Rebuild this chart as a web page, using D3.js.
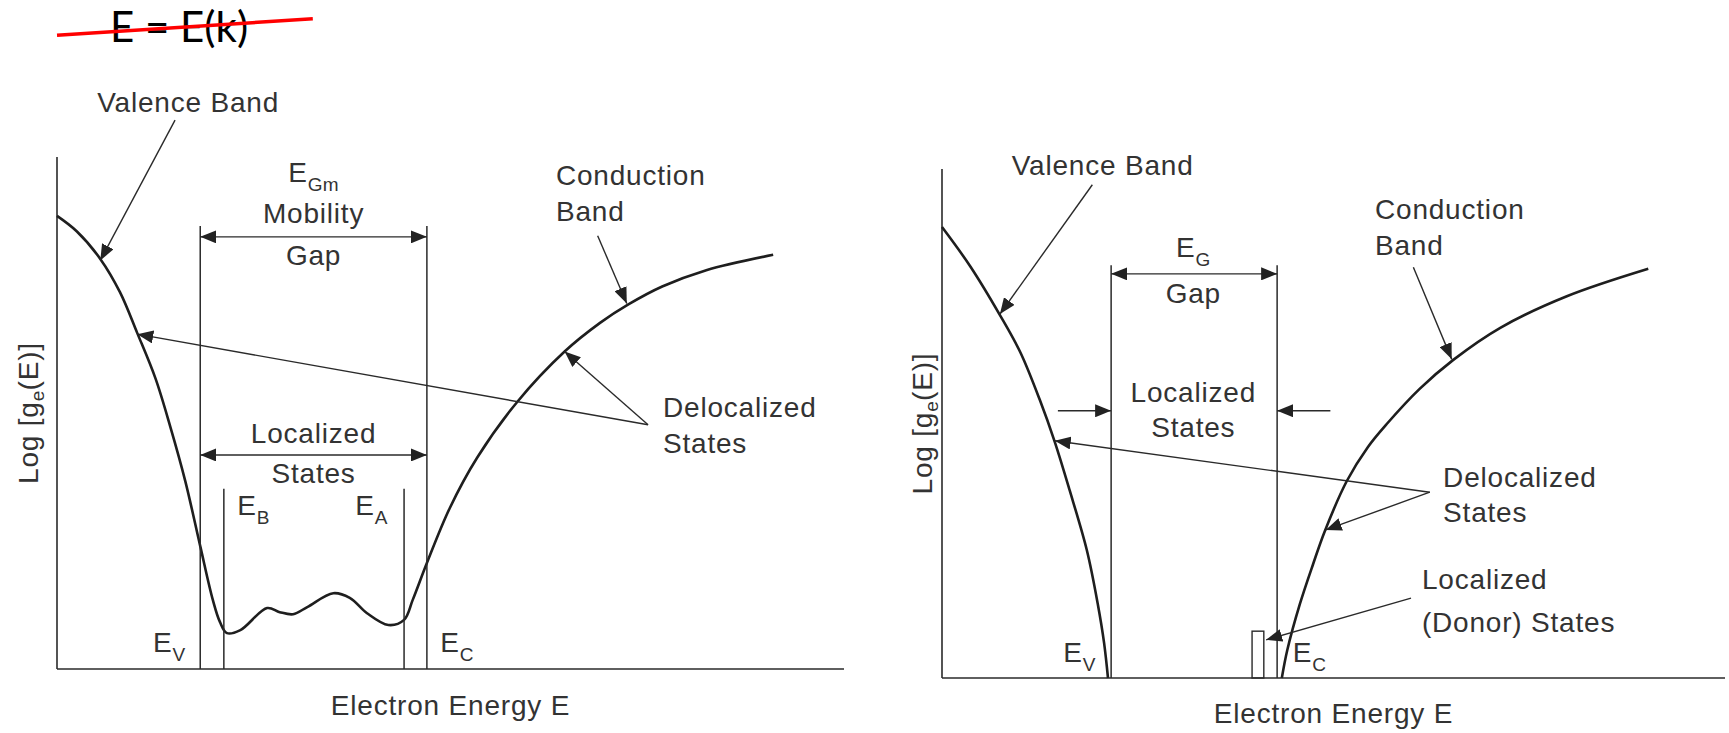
<!DOCTYPE html>
<html>
<head>
<meta charset="utf-8">
<script src="https://cdn.jsdelivr.net/npm/d3@7"></script>
<style>
  html, body { margin: 0; padding: 0; background: #fff; }
  svg { display: block; }
  .lbl { font-family: "Liberation Sans", Arial, sans-serif; font-size: 28px; fill: #333; letter-spacing: 0.8px; }
  .sub { font-size: 19px; letter-spacing: 0.3px; }
  .title { font-family: Lato, "Open Sans", sans-serif; font-size: 42px; fill: #000; }
</style>
</head>
<body>
<svg id="fig" width="1729" height="733"></svg>
<script>
// ---- Density of states, amorphous semiconductor (energy units, log g units) ----
const amorphousDOS = [
  [0, 88.5], [2.5, 85.5], [5.5, 80.1], [8.0, 73.6], [10.2, 65.6], [12.5, 56.8],
  [14.4, 47.3], [16.3, 36.7], [18.2, 24.0], [19.8, 13.5], [20.7, 9.2], [21.6, 7.0],
  [23.3, 7.6], [26.7, 11.9], [28.3, 11.1], [30.0, 10.7], [31.8, 12.1], [35.1, 14.8],
  [37.2, 13.9], [39.4, 10.9], [42.1, 8.6], [44.1, 9.6], [45.2, 13.5], [47.0, 20.7],
  [49.9, 31.4], [53.4, 41.3], [58.5, 52.2], [64.5, 62.0], [69.0, 67.6], [72.6, 71.2],
  [76.9, 74.7], [82.5, 77.9], [91.0, 80.9]
];
const amorphousLevels = [
  { name: "EV", e: 18.2, top: 86.5 },
  { name: "EB", e: 21.2, top: 35.2 },
  { name: "EA", e: 44.1, top: 35.2 },
  { name: "EC", e: 47.0, top: 86.5 }
];

// ---- Density of states, crystalline semiconductor ----
const crystalValence = [
  [0, 88.6], [3.6, 80.9], [7.4, 71.3], [10.0, 64.0], [12.5, 54.6], [14.4, 46.4],
  [16.3, 36.9], [18.5, 25.1], [19.9, 14.5], [20.7, 6.9], [21.2, 0]
];
const crystalConduction = [
  [43.4, 0], [44.1, 5.5], [45.7, 14.5], [47.4, 22.4], [48.9, 28.9], [51.7, 38.7],
  [54.4, 45.4], [56.8, 49.9], [61.0, 56.8], [65.3, 62.5], [71.3, 68.8], [79.8, 75.0],
  [90.2, 80.4]
];
const crystalLevels = [
  { name: "EV", e: 21.6, top: 81.1 },
  { name: "EC", e: 42.8, top: 81.1 }
];
const donorBand = { e0: 39.6, e1: 41.1, g: 9.2 };

const svg = d3.select("#fig");
const defs = svg.append("defs");
["end", "start"].forEach(kind => {
  defs.append("marker")
    .attr("id", "head-" + kind)
    .attr("viewBox", "0 0 16 13")
    .attr("refX", kind === "end" ? 16 : 0).attr("refY", 6.5)
    .attr("markerWidth", 16).attr("markerHeight", 13)
    .attr("markerUnits", "userSpaceOnUse")
    .attr("orient", "auto")
    .append("path")
    .attr("d", kind === "end" ? "M0,0 L16,6.5 L0,13 Z" : "M16,0 L0,6.5 L16,13 Z")
    .attr("fill", "#222");
});

const INK = "#2a2a2a";

function panel(cfg) {
  const x = d3.scaleLinear().domain([0, 100]).range(cfg.xr);
  const y = d3.scaleLinear().domain([0, 100]).range(cfg.yr);
  const g = svg.append("g");

  // axes (plain frame lines, no ticks)
  g.append("line").attr("x1", x(0)).attr("x2", x(0)).attr("y1", y(0)).attr("y2", y(100))
    .attr("stroke", INK).attr("stroke-width", 1.6);
  g.append("line").attr("x1", x(0)).attr("x2", x(100)).attr("y1", y(0)).attr("y2", y(0))
    .attr("stroke", INK).attr("stroke-width", 1.6);

  const line = d3.line().x(d => x(d[0])).y(d => y(d[1])).curve(d3.curveCatmullRom.alpha(0.5));
  cfg.curves.forEach(c => g.append("path").attr("d", line(c))
    .attr("fill", "none").attr("stroke", "#1e1e1e").attr("stroke-width", 2.6)
    .attr("stroke-linejoin", "round"));

  cfg.levels.forEach(l => g.append("line")
    .attr("x1", x(l.e)).attr("x2", x(l.e)).attr("y1", y(0)).attr("y2", y(l.top))
    .attr("stroke", INK).attr("stroke-width", 1.5));

  function arrow(a, b, both) {
    const p = g.append("line")
      .attr("x1", x(a[0])).attr("y1", y(a[1])).attr("x2", x(b[0])).attr("y2", y(b[1]))
      .attr("stroke", INK).attr("stroke-width", 1.4)
      .attr("marker-end", "url(#head-end)");
    if (both) p.attr("marker-start", "url(#head-start)");
  }
  cfg.arrows.forEach(a => arrow(a[0], a[1], a[2]));

  cfg.labels.forEach(l => {
    const el = g.append("text").attr("class", "lbl")
      .attr("x", x(l.at[0])).attr("y", y(l.at[1])).attr("text-anchor", l.anchor || "start");
    if (l.sub) {
      el.append("tspan").text(l.t);
      el.append("tspan").attr("class", "sub").attr("dy", 9).text(l.sub);
    } else {
      el.text(l.t);
    }
  });

  // y-axis title, rotated
  const yl = g.append("text").attr("class", "lbl").attr("text-anchor", "middle")
    .attr("transform", `translate(${cfg.yTitleX},${y(50)}) rotate(-90)`);
  yl.append("tspan").text("Log [g");
  yl.append("tspan").attr("class", "sub").attr("dy", 6).text("e");
  yl.append("tspan").attr("dy", -6).text("(E)]");

  g.append("text").attr("class", "lbl").attr("text-anchor", "middle")
    .attr("x", x(50)).attr("y", cfg.xTitleY).text("Electron Energy E");

  return { g, x, y };
}

// Left: amorphous semiconductor with mobility gap
const left = panel({
  xr: [57, 844], yr: [669, 157],
  curves: [amorphousDOS],
  levels: amorphousLevels,
  arrows: [
    [[15.0, 107.2], [5.5, 79.8]],
    [[75.1, 47.7], [10.2, 65.4]],
    [[75.1, 47.7], [64.5, 62.0]],
    [[68.7, 84.6], [72.4, 71.4]],
    [[18.2, 84.4], [47.0, 84.4], true],
    [[18.2, 41.8], [47.0, 41.8], true]
  ],
  labels: [
    { t: "Valence Band", at: [5.1, 108.8] },
    { t: "E", sub: "Gm", at: [32.6, 95.1], anchor: "middle" },
    { t: "Mobility", at: [32.6, 87.1], anchor: "middle" },
    { t: "Gap", at: [32.6, 78.9], anchor: "middle" },
    { t: "Localized", at: [32.6, 44.1], anchor: "middle" },
    { t: "States", at: [32.6, 36.3], anchor: "middle" },
    { t: "E", sub: "B", at: [22.9, 30.1] },
    { t: "E", sub: "A", at: [37.9, 30.1] },
    { t: "E", sub: "V", at: [12.2, 3.3] },
    { t: "E", sub: "C", at: [48.7, 3.3] },
    { t: "Conduction", at: [63.4, 94.5] },
    { t: "Band", at: [63.4, 87.5] },
    { t: "Delocalized", at: [77.0, 49.2] },
    { t: "States", at: [77.0, 42.2] }
  ],
  yTitleX: 38, xTitleY: 715
});

// Right: crystalline semiconductor with donor states
const right = panel({
  xr: [942, 1725], yr: [678, 169],
  curves: [crystalValence, crystalConduction],
  levels: crystalLevels,
  arrows: [
    [[19.2, 96.9], [7.4, 71.5]],
    [[62.3, 36.5], [14.4, 46.6]],
    [[62.3, 36.5], [49.0, 29.1]],
    [[60.2, 80.7], [65.1, 62.6]],
    [[59.9, 15.7], [41.4, 7.5]],
    [[21.6, 79.4], [42.8, 79.4], true],
    [[14.8, 52.5], [21.6, 52.5]],
    [[49.6, 52.5], [42.8, 52.5]]
  ],
  labels: [
    { t: "Valence Band", at: [8.9, 98.8] },
    { t: "E", sub: "G", at: [32.1, 82.7], anchor: "middle" },
    { t: "Gap", at: [32.1, 73.7], anchor: "middle" },
    { t: "Localized", at: [32.1, 54.2], anchor: "middle" },
    { t: "States", at: [32.1, 47.3], anchor: "middle" },
    { t: "E", sub: "V", at: [15.5, 3.1] },
    { t: "E", sub: "C", at: [44.8, 3.1] },
    { t: "Conduction", at: [55.3, 90.2] },
    { t: "Band", at: [55.3, 83.1] },
    { t: "Delocalized", at: [64.0, 37.5] },
    { t: "States", at: [64.0, 30.6] },
    { t: "Localized", at: [61.3, 17.5] },
    { t: "(Donor) States", at: [61.3, 9.0] }
  ],
  yTitleX: 932, xTitleY: 723
});

// donor level box just below the conduction band edge
right.g.append("rect")
  .attr("x", right.x(donorBand.e0)).attr("y", right.y(donorBand.g))
  .attr("width", right.x(donorBand.e1) - right.x(donorBand.e0))
  .attr("height", right.y(0) - right.y(donorBand.g))
  .attr("fill", "none").attr("stroke", INK).attr("stroke-width", 1.4);

// struck-out dispersion relation heading
svg.append("text").attr("class", "title").attr("x", 110).attr("y", 42).text("E = E(k)");
svg.append("line")
  .attr("x1", left.x(0)).attr("y1", left.y(123.8))
  .attr("x2", left.x(32.5)).attr("y2", left.y(127.0))
  .attr("stroke", "#ff0000").attr("stroke-width", 3.5);
</script>
</body>
</html>
